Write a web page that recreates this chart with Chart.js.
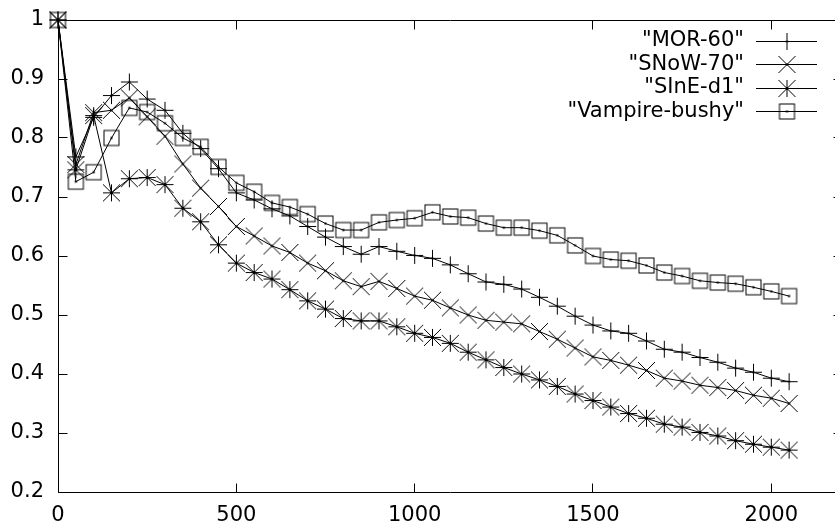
<!DOCTYPE html>
<html><head><meta charset="utf-8">
<script src="https://cdn.jsdelivr.net/npm/chart.js@4"></script>
<style>html,body{margin:0;padding:0;background:#fff;overflow:hidden;width:835px;height:532px}</style>
</head><body>
<canvas id="c" width="843" height="532"></canvas>
<script>
const xValues = [0,50,100,150,200,250,300,350,400,450,500,550,600,650,700,750,800,850,900,950,1000,1050,1100,1150,1200,1250,1300,1350,1400,1450,1500,1550,1600,1650,1700,1750,1800,1850,1900,1950,2000,2050];
const mor60 = [1.0,0.768,0.835,0.872,0.895,0.866,0.847,0.808,0.782,0.748,0.707,0.695,0.680,0.668,0.650,0.632,0.616,0.603,0.616,0.608,0.601,0.596,0.585,0.570,0.556,0.552,0.544,0.530,0.515,0.498,0.483,0.473,0.469,0.456,0.442,0.437,0.428,0.420,0.410,0.403,0.393,0.387];
const snow70 = [1.0,0.755,0.843,0.847,0.868,0.836,0.803,0.756,0.715,0.684,0.650,0.634,0.617,0.606,0.588,0.575,0.558,0.548,0.557,0.545,0.532,0.525,0.512,0.500,0.491,0.488,0.485,0.472,0.459,0.444,0.429,0.423,0.415,0.406,0.393,0.388,0.381,0.377,0.372,0.364,0.359,0.350];
const sineD1 = [1.0,0.746,0.838,0.707,0.731,0.733,0.721,0.681,0.658,0.619,0.588,0.572,0.561,0.543,0.524,0.510,0.494,0.490,0.490,0.480,0.469,0.462,0.452,0.437,0.424,0.411,0.400,0.390,0.379,0.366,0.355,0.344,0.333,0.325,0.315,0.310,0.301,0.295,0.287,0.281,0.276,0.271];
const vampireBushy = [1.0,0.726,0.742,0.800,0.851,0.844,0.825,0.800,0.785,0.751,0.724,0.709,0.690,0.683,0.671,0.655,0.644,0.644,0.657,0.661,0.664,0.674,0.667,0.665,0.655,0.648,0.648,0.643,0.635,0.618,0.600,0.594,0.592,0.584,0.572,0.566,0.558,0.555,0.553,0.547,0.540,0.532];
const seriesNames = ['"MOR-60"','"SNoW-70"','"SInE-d1"','"Vampire-bushy"'];
const xTickValues = [0,500,1000,1500,2000];
const xTickLabels = ['0','500','1000','1500','2000'];
const yTickValues = [0.2,0.3,0.4,0.5,0.6,0.7,0.8,0.9,1.0];
const yTickLabels = ['0.2','0.3','0.4','0.5','0.6','0.7','0.8','0.9','1'];

const FONT = '"DejaVu Sans", sans-serif';
const FSIZE = 21;

function makeMarker(kind){
  const size = 21, m = 10.5, s = 8.5;
  const c = document.createElement('canvas'); c.width = size; c.height = size;
  const g = c.getContext('2d'); g.strokeStyle = '#000'; g.fillStyle = '#000'; g.lineWidth = 1;
  g.beginPath();
  if (kind === 'plus' || kind === 'star') { g.moveTo(m-s,m); g.lineTo(m+s,m); g.moveTo(m,m-s); g.lineTo(m,m+s); }
  if (kind === 'cross' || kind === 'star') { g.moveTo(m-s,m-s); g.lineTo(m+s,m+s); g.moveTo(m-s,m+s); g.lineTo(m+s,m-s); }
  g.stroke();
  if (kind === 'square') { g.strokeRect(m-7.5, m-7.5, 15, 15); }
  g.fillRect(m-1, m-1, 2, 2);
  return c;
}

function pts(ys){ return xValues.map((x,i)=>({x:x, y:ys[i]})); }
function ds(label, ys, kind){
  const mk = makeMarker(kind);
  return {label, data: pts(ys), borderColor:'#000', borderWidth:1, tension:0, fill:false,
    pointStyle: mk, pointRadius: 8, pointHoverRadius: 8, clip: false};
}

const frame = {
  id:'gpFrame',
  beforeDatasetsDraw(chart){
    const {ctx, chartArea:a, scales} = chart;
    const L = Math.floor(a.left)+0.5, R = Math.floor(a.right)+0.5, T = Math.floor(a.top)+0.5, B = Math.floor(a.bottom)+0.5;
    ctx.save(); ctx.strokeStyle='#000'; ctx.lineWidth=1;
    ctx.beginPath(); ctx.rect(L, T, R-L, B-T); ctx.stroke();
    ctx.beginPath();
    xTickValues.forEach(v=>{ const p = Math.floor(scales.x.getPixelForValue(v))+0.5; ctx.moveTo(p,B); ctx.lineTo(p,B-9); ctx.moveTo(p,T); ctx.lineTo(p,T+9); });
    yTickValues.forEach(v=>{ const p = Math.floor(scales.y.getPixelForValue(v))+0.5; ctx.moveTo(L,p); ctx.lineTo(L+9,p); ctx.moveTo(R,p); ctx.lineTo(R-9,p); });
    ctx.stroke(); ctx.restore();
  },
  afterDraw(chart){
    const ctx = chart.ctx;
    ctx.save();
    ctx.font = FSIZE + 'px ' + FONT; ctx.textAlign='right'; ctx.textBaseline='middle';
    ctx.strokeStyle='#000'; ctx.fillStyle='#000'; ctx.lineWidth=1;
    chart.data.datasets.forEach((d,i)=>{
      const y = 41 + i*23.5;
      ctx.fillText(d.label, 744, y);
      const yl = Math.floor(y)+0.5;
      ctx.beginPath(); ctx.moveTo(756, yl); ctx.lineTo(817, yl); ctx.stroke();
      ctx.drawImage(d.pointStyle, 787-10.5, yl-10.5);
    });
    ctx.restore();
  }
};

new Chart(document.getElementById('c'), {
  type:'line',
  data:{ datasets:[
    ds(seriesNames[0], mor60, 'plus'),
    ds(seriesNames[1], snow70, 'cross'),
    ds(seriesNames[2], sineD1, 'star'),
    ds(seriesNames[3], vampireBushy, 'square')
  ]},
  options:{
    responsive:false, animation:false, devicePixelRatio:1,
    layout:{autoPadding:false, padding:{top:20, right:0.4, bottom:0, left:0}},
    plugins:{legend:{display:false}, tooltip:{enabled:false}},
    events:[],
    scales:{
      x:{type:'linear', min:0, max:2200,
        grid:{display:false, drawTicks:false}, border:{display:false},
        afterBuildTicks(s){ s.ticks = xTickValues.map(v=>({value:v})); },
        afterFit(s){ s.height = 40; s.paddingLeft = 0; s.paddingRight = 0; },
        ticks:{padding:11, color:'#000', font:{family:FONT, size:FSIZE}, maxRotation:0, autoSkip:false,
          callback:(v)=>{ const i = xTickValues.indexOf(v); return i>=0 ? xTickLabels[i] : ''; }}
      },
      y:{type:'linear', min:0.2, max:1.0,
        grid:{display:false, drawTicks:false}, border:{display:false},
        afterBuildTicks(s){ s.ticks = yTickValues.map(v=>({value:v})); },
        afterFit(s){ s.width = 58; s.paddingTop = 0; s.paddingBottom = 0; },
        ticks:{padding:14, color:'#000', font:{family:FONT, size:FSIZE}, autoSkip:false,
          callback:(v)=>{ const i = yTickValues.findIndex(t=>Math.abs(t-v)<1e-9); return i>=0 ? yTickLabels[i] : ''; }}
      }
    }
  },
  plugins:[frame]
});
</script>
</body></html>
